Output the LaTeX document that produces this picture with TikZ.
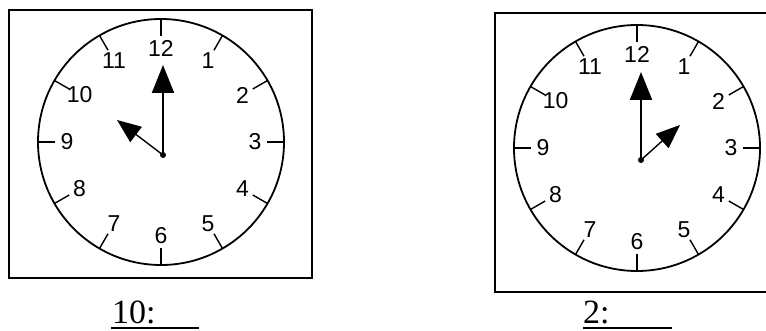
\documentclass[tikz,border=0pt]{standalone}
\usepackage{fontspec}
\setmainfont{Liberation Serif}
\newfontfamily\dialfont{Liberation Sans}
\usetikzlibrary{arrows.meta}

\begin{document}
\begin{tikzpicture}[x=1pt,y=1pt,
  frame/.style={draw,line width=2.4pt},
  dial/.style={draw,line width=1.8pt},
  hourtick/.style={draw,line width=1.4pt},
  numeral/.style={font=\dialfont\fontsize{23}{23}\selectfont,inner sep=0pt},
  minhand/.style={line width=2pt,-{Triangle[length=28pt,width=22pt]}},
  hourhand/.style={line width=1.4pt,-{Triangle[length=24pt,width=19pt]}},
  answer/.style={font=\fontsize{34}{38}\selectfont,inner sep=0pt,anchor=base west}]
\useasboundingbox (0,0) rectangle (766,330);
\clip (0,0) rectangle (766,330);
% frames round the two clocks
\draw[frame] (9,320) rectangle (312,52);
\draw[frame] (772,317) -| (495,38) -- (772,38);
% clock faces
\foreach \cx/\cy/\nm in {161/188/a,637/182/b} {
  \begin{scope}[shift={(\cx,\cy)}]
    \draw[dial] (0,0) circle (123pt);
    \foreach \h in {1,...,12} {
      \draw[hourtick] (90-30*\h:123) -- (90-30*\h:106);
      \node[numeral] (\nm-\h) at (90-30*\h:94) {\h};
    }
  \end{scope}
}
% hands: 10 o'clock
\coordinate (pivota) at (163,175);
\coordinate (mina) at (163,265);
\coordinate (houra) at (117,210);
\draw[minhand] (pivota) -- (mina);
\draw[hourhand] (pivota) -- (houra);
\fill (pivota) circle (3pt);
% hands: 2 o'clock
\coordinate (pivotb) at (641,170);
\coordinate (minb) at (641,258);
\coordinate (hourb) at (680,205);
\draw[minhand] (pivotb) -- (minb);
\draw[hourhand] (pivotb) -- (hourb);
\fill (pivotb) circle (3pt);
% answers
\node[answer] (ansa) at (112,7) {10:};
\node[answer] (ansb) at (583,7) {2:};
\draw[line width=2pt] (111,2) -- (199,2);
\draw[line width=2pt] (583,2) -- (672,2);
\end{tikzpicture}
\end{document}
